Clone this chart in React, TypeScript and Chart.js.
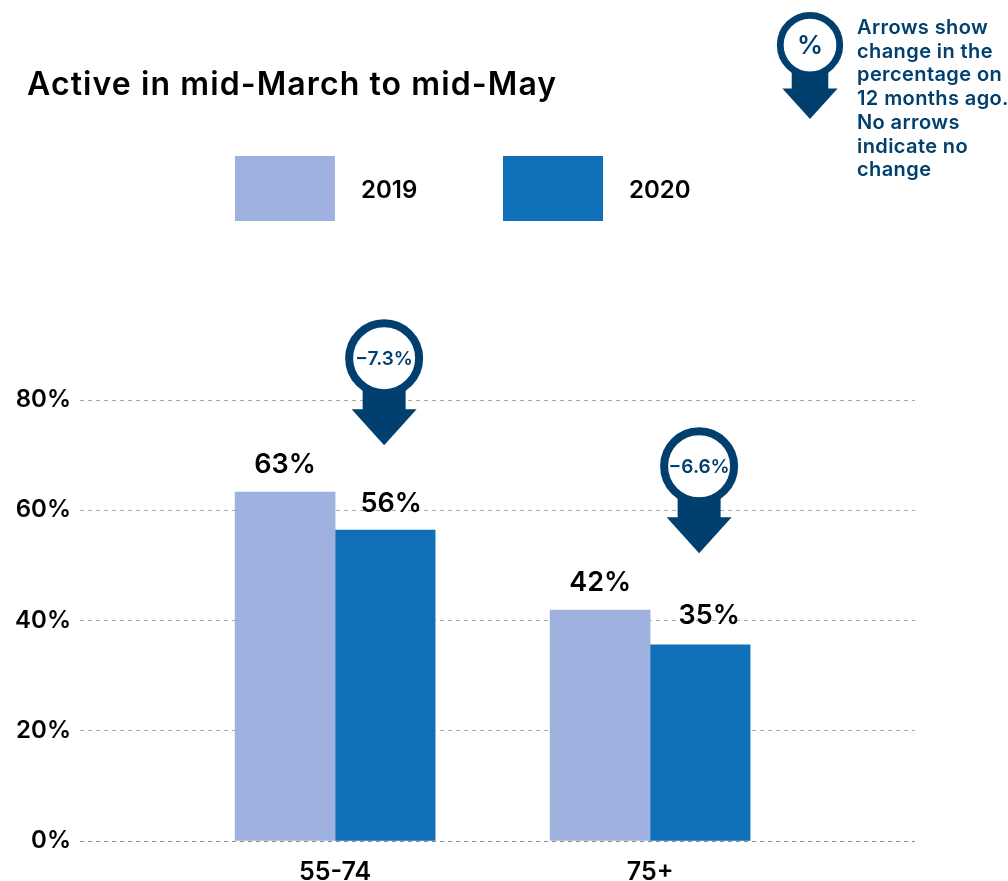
import React, { useEffect, useRef } from "react";
import { Chart, registerables } from "chart.js";

Chart.register(...registerables);

const categories = ["55-74", "75+"];
const categoryPositions = [1, 2];
const seriesNames = ["2019", "2020"];
const values2019 = [63.3, 41.9];
const values2020 = [56.4, 35.6];
const labels2019 = ["63%", "42%"];
const labels2020 = ["56%", "35%"];
const changeLabels = ["−7.3%", "−6.6%"];
const arrowTipValues = [71.8, 52.2];
const yTicks = [0, 20, 40, 60, 80];
const titleText = "Active in mid-March to mid-May";
const noteLines = ["Arrows show", "change in the", "percentage on", "12 months ago.", "No arrows", "indicate no", "change"];

const FONT = "Inter, sans-serif";
const LIGHT = "#9FB2DF";
const BLUE = "#0F70B7";
const NAVY = "#003F6E";

function drawArrow(ctx: any, cx: number, tipY: number, text: string, fontSize: number, s: number) {
  const cy = tipY - 87 * s;
  const r = 35 * s;
  const stem = 21.5 * s;
  const head = 32.5 * s;
  const headH = 36 * s;
  ctx.fillStyle = NAVY;
  ctx.beginPath();
  ctx.moveTo(cx - stem, cy + 20 * s);
  ctx.lineTo(cx + stem, cy + 20 * s);
  ctx.lineTo(cx + stem, tipY - headH);
  ctx.lineTo(cx + head, tipY - headH);
  ctx.lineTo(cx, tipY);
  ctx.lineTo(cx - head, tipY - headH);
  ctx.lineTo(cx - stem, tipY - headH);
  ctx.closePath();
  ctx.fill();
  ctx.beginPath();
  ctx.arc(cx, cy, r, 0, Math.PI * 2);
  ctx.fillStyle = "#fff";
  ctx.fill();
  ctx.lineWidth = 8 * s;
  ctx.strokeStyle = NAVY;
  ctx.stroke();
  ctx.fillStyle = NAVY;
  ctx.font = `600 ${fontSize}px ${FONT}`;
  ctx.textAlign = "center";
  ctx.textBaseline = "middle";
  ctx.fillText(text, cx, cy + 1);
}

const overlay = {
  id: "overlay",
  afterDatasetsDraw(chart: any) {
    const { ctx, scales } = chart;
    const x = scales.x;
    const y = scales.y;
    ctx.save();
    ctx.textBaseline = "alphabetic";
    ctx.fillStyle = "#000";
    ctx.textAlign = "left";
    ctx.font = `600 32px ${FONT}`;
    ctx.letterSpacing = "1.1px";
    ctx.fillText(titleText, 27, 95);
    ctx.letterSpacing = "0px";

    ctx.font = `600 24px ${FONT}`;
    const legendX = [235, 503];
    chart.data.datasets.forEach((d: any, i: number) => {
      ctx.fillStyle = d.backgroundColor;
      ctx.fillRect(legendX[i], 156, 100, 65);
      ctx.fillStyle = "#000";
      ctx.fillText(seriesNames[i], legendX[i] + 126, 198);
    });

    const labelShift = [6, 9];
    const labelGap = [18, 21];
    categoryPositions.forEach((p, i) => {
      ctx.fillStyle = "#000";
      ctx.textAlign = "center";
      ctx.textBaseline = "alphabetic";
      ctx.font = `600 27px ${FONT}`;
      ctx.fillText(labels2019[i], x.getPixelForValue(p) - 50, y.getPixelForValue(values2019[i]) - 19);
      ctx.fillText(labels2020[i], x.getPixelForValue(p) + 50 + labelShift[i], y.getPixelForValue(values2020[i]) - labelGap[i]);
      drawArrow(ctx, x.getPixelForValue(p) + 49, y.getPixelForValue(arrowTipValues[i]), changeLabels[i], 19, 1);
    });

    drawArrow(ctx, 810, 119, "%", 26, 0.85);
    ctx.fillStyle = NAVY;
    ctx.textAlign = "left";
    ctx.textBaseline = "alphabetic";
    ctx.font = `600 20px ${FONT}`;
    ctx.letterSpacing = "0.4px";
    noteLines.forEach((line, i) => ctx.fillText(line, 857, 34 + i * 23.7));
    ctx.restore();
  },
};

export default function App() {
  const ref = useRef<HTMLCanvasElement>(null);
  useEffect(() => {
    const chart = new Chart(ref.current!, {
      type: "bar",
      plugins: [overlay],
      data: {
        datasets: [
          { label: seriesNames[0], data: categoryPositions.map((p, i) => ({ x: p, y: values2019[i] })), backgroundColor: LIGHT, barThickness: 100 },
          { label: seriesNames[1], data: categoryPositions.map((p, i) => ({ x: p, y: values2020[i] })), backgroundColor: BLUE, barThickness: 100 },
        ],
      },
      options: {
        animation: false,
        responsive: false,
        layout: { padding: { top: 400, right: 93, left: 0, bottom: 0 } },
        plugins: { legend: { display: false }, title: { display: false }, tooltip: { enabled: false } },
        scales: {
          x: {
            type: "linear",
            offset: false,
            min: 0.19,
            max: 2.841,
            grid: { display: false, offset: false },
            border: { display: false },
            afterBuildTicks: (s: any) => { s.ticks = categoryPositions.map((value) => ({ value })); },
            afterFit: (s: any) => { s.height = 40; },
            ticks: {
              autoSkip: false,
              maxRotation: 0,
              padding: 8,
              color: "#000",
              font: { family: "Inter", size: 25, weight: "600" },
              callback: (v: any) => categories[categoryPositions.indexOf(v)] ?? "",
            },
          },
          y: {
            min: 0,
            max: 80,
            afterBuildTicks: (s: any) => { s.ticks = yTicks.map((value) => ({ value })); },
            afterFit: (s: any) => { s.width = 80; },
            grid: { color: (c: any) => (c.tick?.value === 0 ? "#888" : "#aaa"), lineWidth: 1, drawTicks: false, tickLength: 0 },
            border: { display: false, dash: [4, 4] },
            ticks: {
              padding: 9,
              color: "#000",
              font: { family: "Inter", size: 24, weight: "600" },
              callback: (v: any) => `${v}%`,
            },
          },
        },
      },
    } as any);
    return () => chart.destroy();
  }, []);
  return (
    <div style={{ position: "absolute", left: 0, top: 0, width: 1008, height: 881, background: "#fff" }}>
      <canvas ref={ref} width={1008} height={881} style={{ display: "block" }} />
    </div>
  );
}
